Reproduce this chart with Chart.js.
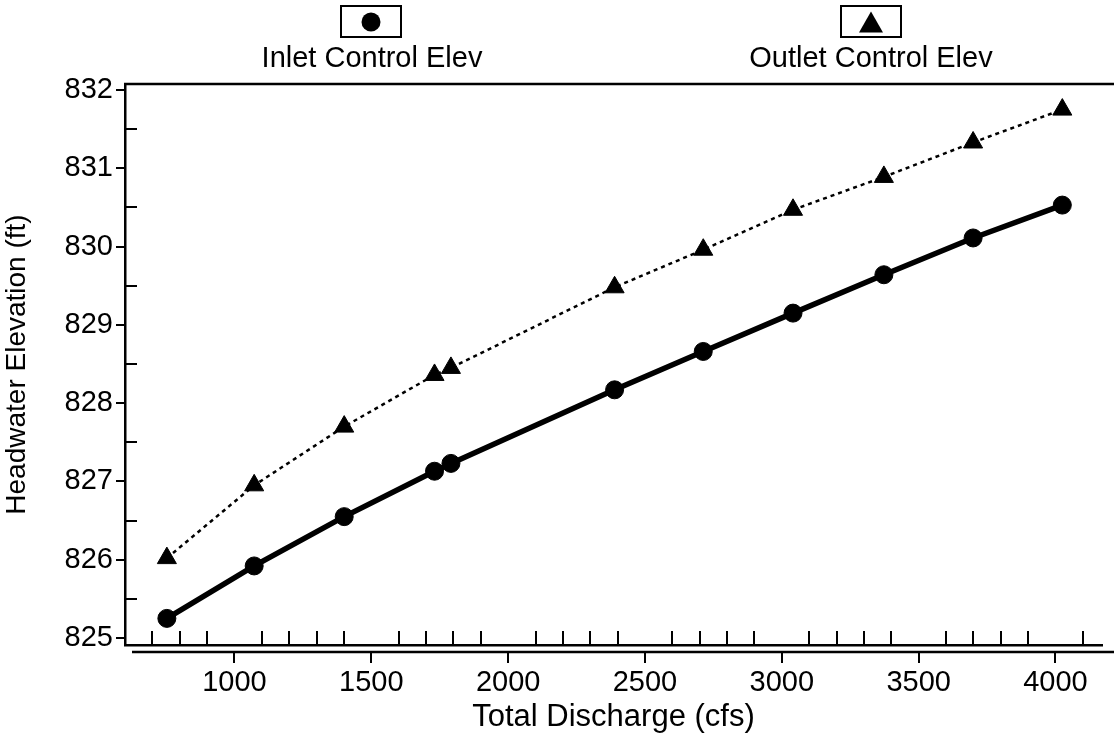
<!DOCTYPE html>
<html>
<head>
<meta charset="utf-8">
<script src="https://cdn.jsdelivr.net/npm/chart.js@4/dist/chart.umd.min.js"></script>
<style>
html,body{margin:0;padding:0;background:#fff;}
#wrap{position:relative;width:1114px;height:736px;overflow:hidden;background:#fff;}
#c{position:absolute;left:0;top:0;}
.legtext{position:absolute;font-family:'Liberation Sans',Arial,sans-serif;font-size:29px;line-height:29px;color:#000;white-space:nowrap;transform:translateX(-50%);}
.legbox{position:absolute;width:58px;height:29px;border:2px solid #000;transform:translateX(-50%);background:#fff;}
.dot{position:absolute;left:50%;top:50%;width:19px;height:19px;border-radius:50%;background:#000;transform:translate(-50%,-50%);}
.tri{position:absolute;left:50%;top:50%;width:0;height:0;border-left:12px solid transparent;border-right:12px solid transparent;border-bottom:21px solid #000;transform:translate(-50%,-50%);}
</style>
</head>
<body>
<div id="wrap">
  <canvas id="c" width="1114" height="736"></canvas>
  <div class="legbox" style="left:371px;top:5px;"><div class="dot"></div></div>
  <div class="legtext" style="left:372px;top:43px;">Inlet Control Elev</div>
  <div class="legbox" style="left:871px;top:5px;"><div class="tri"></div></div>
  <div class="legtext" style="left:871px;top:43px;">Outlet Control Elev</div>
</div>
<script>
// ---- data ----
const discharge = [753, 1072, 1401, 1731, 1791, 2389, 2713, 3041, 3373, 3699, 4025];
const inletElev = [825.25, 825.92, 826.55, 827.13, 827.23, 828.17, 828.66, 829.15, 829.64, 830.11, 830.53];
const outletElev = [826.02, 826.95, 827.70, 828.36, 828.45, 829.48, 829.96, 830.47, 830.89, 831.33, 831.75];
const seriesNames = ['Inlet Control Elev', 'Outlet Control Elev'];

// ---- ticks ----
const xTicks = [1000, 1500, 2000, 2500, 3000, 3500, 4000];
const xMinorTicks = [700, 800, 900, 1100, 1200, 1300, 1400, 1600, 1700, 1800, 1900, 2100, 2200, 2300, 2400,
  2600, 2700, 2800, 2900, 3100, 3200, 3300, 3400, 3600, 3700, 3800, 3900, 4100];
const yTicks = [825, 826, 827, 828, 829, 830, 831, 832];
const yMinorTicks = [825.5, 826.5, 827.5, 828.5, 829.5, 830.5, 831.5];
const xTitle = 'Total Discharge (cfs)';
const yTitle = 'Headwater Elevation (ft)';

const FONT = "'Liberation Sans', Arial, sans-serif";

const framePlugin = {
  id: 'frame',
  afterDatasetsDraw(chart) {
    const {ctx, chartArea: a, scales: {x, y}} = chart;
    ctx.save();
    ctx.strokeStyle = '#000';
    ctx.lineCap = 'butt';
    // top frame
    ctx.lineWidth = 2.5;
    ctx.beginPath();
    ctx.moveTo(a.left - 1, a.top);
    ctx.lineTo(chart.width, a.top);
    ctx.stroke();
    // inner minor ticks
    ctx.lineWidth = 2;
    ctx.beginPath();
    xMinorTicks.forEach(v => {
      const px = Math.round(x.getPixelForValue(v));
      ctx.moveTo(px, a.bottom);
      ctx.lineTo(px, a.bottom - 14);
    });
    yMinorTicks.forEach(v => {
      const py = Math.round(y.getPixelForValue(v));
      ctx.moveTo(a.left, py);
      ctx.lineTo(a.left + 12, py);
    });
    ctx.stroke();
    // offset outer x line with major ticks
    const oy = a.bottom + 7;
    ctx.lineWidth = 2.5;
    ctx.beginPath();
    ctx.moveTo(a.left + 7, oy);
    ctx.lineTo(chart.width, oy);
    ctx.stroke();
    ctx.lineWidth = 2;
    ctx.beginPath();
    xTicks.forEach(v => {
      const px = Math.round(x.getPixelForValue(v));
      ctx.moveTo(px, oy);
      ctx.lineTo(px, oy + 11);
    });
    ctx.stroke();
    ctx.restore();
  }
};

new Chart(document.getElementById('c'), {
  type: 'line',
  data: {
    datasets: [
      {
        label: seriesNames[0],
        data: discharge.map((q, i) => ({x: q, y: inletElev[i]})),
        borderColor: '#000',
        backgroundColor: '#000',
        borderWidth: 5.5,
        pointStyle: 'circle',
        pointRadius: 9,
        pointBorderWidth: 1,
        pointBackgroundColor: '#000',
        pointBorderColor: '#000',
        tension: 0,
        fill: false
      },
      {
        label: seriesNames[1],
        data: discharge.map((q, i) => ({x: q, y: outletElev[i]})),
        borderColor: '#000',
        backgroundColor: '#000',
        borderWidth: 2.5,
        borderDash: [4, 4],
        pointStyle: 'triangle',
        pointRadius: 11,
        pointBorderWidth: 1,
        pointBackgroundColor: '#000',
        pointBorderColor: '#000',
        tension: 0,
        fill: false
      }
    ]
  },
  options: {
    responsive: false,
    devicePixelRatio: 1,
    animation: false,
    layout: {padding: {top: 84, right: 2, bottom: 0, left: 0}},
    plugins: {legend: {display: false}, tooltip: {enabled: false}},
    scales: {
      x: {
        type: 'linear',
        min: 600,
        max: 4170,
        afterBuildTicks: s => { s.ticks = xTicks.map(v => ({value: v})); },
        afterFit: s => { s.height = 91; },
        grid: {display: false, drawTicks: false},
        border: {display: true, color: '#000', width: 2.5},
        ticks: {padding: 21, color: '#000', font: {family: FONT, size: 29}, maxRotation: 0, autoSkip: false,
          callback: v => String(v)},
        title: {display: true, text: xTitle, color: '#000', font: {family: FONT, size: 31}, padding: {top: 0, bottom: 0}}
      },
      y: {
        type: 'linear',
        min: 824.91,
        max: 832.077,
        afterBuildTicks: s => { s.ticks = yTicks.map(v => ({value: v})); },
        afterFit: s => { s.width = 125; },
        grid: {drawOnChartArea: false, drawTicks: true, tickLength: 9, color: '#000', lineWidth: 2},
        border: {display: true, color: '#000', width: 2.5},
        ticks: {padding: 3, color: '#000', font: {family: FONT, size: 29}, autoSkip: false,
          callback: v => String(v)},
        title: {display: true, text: yTitle, color: '#000', font: {family: FONT, size: 28}, padding: {top: 0, bottom: 0}}
      }
    }
  },
  plugins: [framePlugin]
});
</script>
</body>
</html>
